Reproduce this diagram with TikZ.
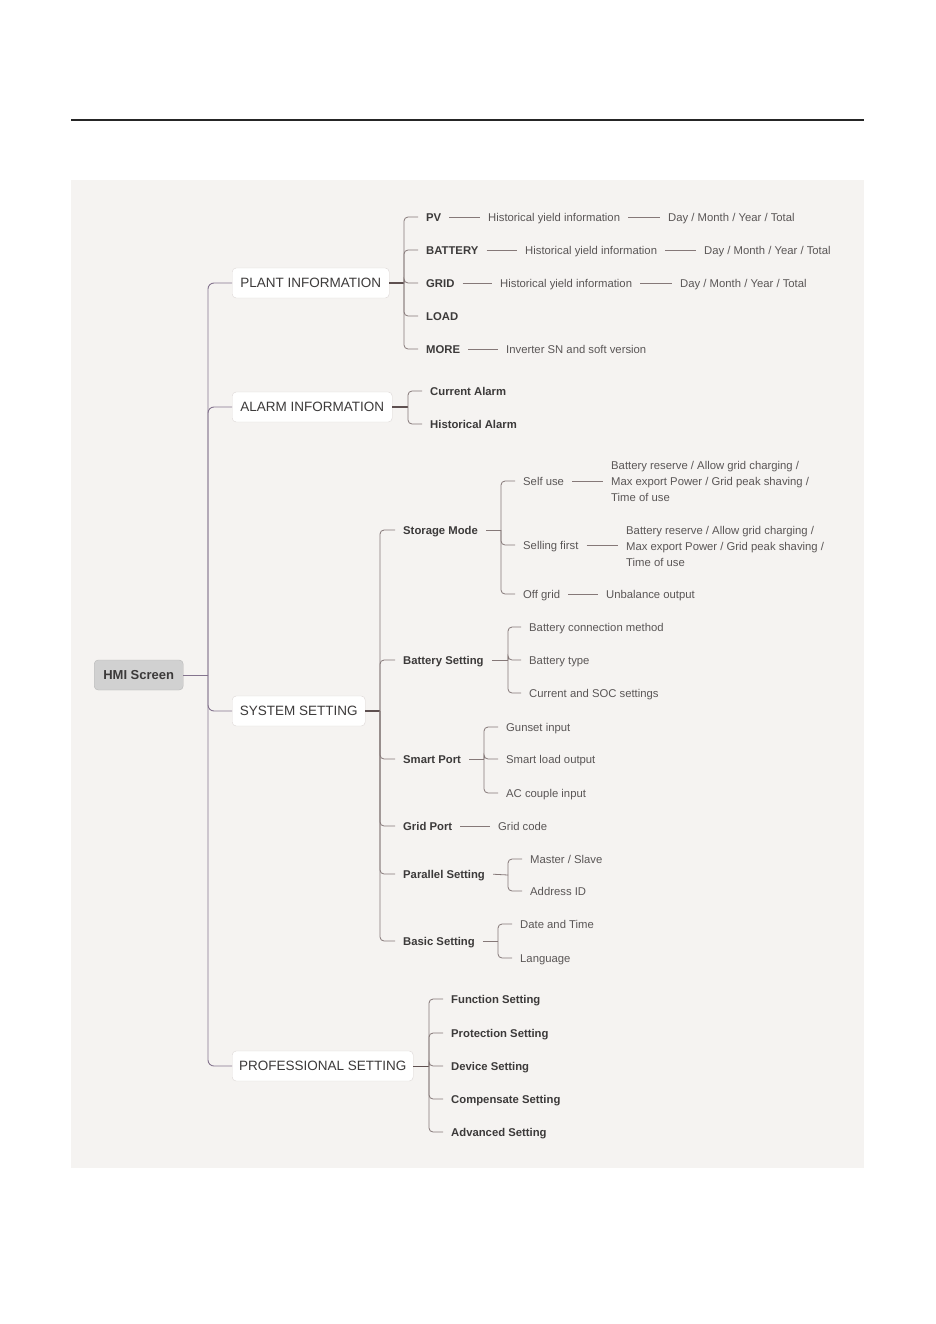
\documentclass[tikz,border=0pt]{standalone}
\usepackage{fontspec}
\setmainfont{Liberation Sans}
\definecolor{txt}{HTML}{5A5656}
\definecolor{btxt}{HTML}{3C3A3A}
\definecolor{lncol}{HTML}{857878}
\definecolor{trcol}{HTML}{84748E}
\definecolor{dkcol}{HTML}{5E5050}
\definecolor{panel}{HTML}{F5F3F1}
\definecolor{boxline}{HTML}{DDD8D6}
\begin{document}
\begin{tikzpicture}[x=1pt,y=-1pt,
 lbl/.style={anchor=west,inner xsep=4pt,inner ysep=1pt,text height=10.5pt,text depth=2pt,font=\fontsize{11.3}{13}\selectfont,text=txt},
 blbl/.style={lbl,font=\fontsize{11.3}{13}\selectfont\bfseries,text=btxt},
 mlbl/.style={anchor=west,inner xsep=4pt,inner ysep=1pt,align=left,font=\fontsize{11.3}{16}\selectfont,text=txt},
 box/.style={draw=boxline,fill=white,rounded corners=4pt,minimum height=30pt,inner xsep=0pt,text height=11pt,text depth=2.5pt,font=\fontsize{13.5}{15}\selectfont,text=btxt,anchor=west},
 con/.style={draw=lncol,line width=0.8pt,shorten <=4pt,shorten >=4pt},
 br/.style={draw=lncol,line width=0.8pt,rounded corners=4pt,shorten >=4pt},
 trunk/.style={draw=trcol,line width=0.9pt,rounded corners=6pt},
 stem/.style={draw=dkcol,line width=1.4pt}]
\useasboundingbox (0,0) rectangle (936,1324);
\fill[white] (0,0) rectangle (936,1324);
\draw[line width=1.5pt,draw=black!85] (71,120) -- (864,120);
\fill[panel] (71,180) rectangle (864,1168);

% root
\node[draw=black!28,fill=black!18,rounded corners=4pt,minimum width=89pt,minimum height=30pt,inner xsep=0pt,anchor=west,text height=11pt,text depth=2.5pt,font=\fontsize{13}{15}\selectfont\bfseries,text=btxt] (hmi) at (94,675) {HMI Screen};

% level 1 boxes
\node[box,minimum width=157pt] (plant) at (232,283) {PLANT INFORMATION};
\node[box,minimum width=160pt] (alarm) at (232,407) {ALARM INFORMATION};
\node[box,minimum width=133pt] (sys) at (232,711) {SYSTEM SETTING};
\node[box,minimum width=181pt] (prof) at (232,1066) {PROFESSIONAL SETTING};

\coordinate (T) at (208,675);
\draw[draw=trcol,line width=0.9pt] (hmi.east) -- (T);
\draw[trunk] (T) |- (plant.west);
\draw[trunk] (T) |- (alarm.west);
\draw[trunk] (T) |- (sys.west);
\draw[trunk] (T) |- (prof.west);

% PLANT INFORMATION
\coordinate (J1) at (404,283);
\draw[stem] (plant.east) -- (J1);
\node[blbl] (pv) at (422,217) {PV};
\node[blbl] (bat) at (422,250) {BATTERY};
\node[blbl] (grid) at (422,283) {GRID};
\node[blbl] (load) at (422,316) {LOAD};
\node[blbl] (more) at (422,349) {MORE};
\foreach \n in {pv,bat,grid,load,more} \draw[br] (J1) |- (\n.west);
\node[lbl] (pvh) at (484,217) {Historical yield information};
\node[lbl] (pvd) at (664,217) {Day / Month / Year / Total};
\node[lbl] (bath) at (521,250) {Historical yield information};
\node[lbl] (batd) at (700,250) {Day / Month / Year / Total};
\node[lbl] (gridh) at (496,283) {Historical yield information};
\node[lbl] (gridd) at (676,283) {Day / Month / Year / Total};
\node[lbl] (moreh) at (502,349) {Inverter SN and soft version};
\draw[con] (pv) -- (pvh); \draw[con] (pvh) -- (pvd);
\draw[con] (bat) -- (bath); \draw[con] (bath) -- (batd);
\draw[con] (grid) -- (gridh); \draw[con] (gridh) -- (gridd);
\draw[con] (more) -- (moreh);

% ALARM INFORMATION
\coordinate (J2) at (408,407);
\draw[stem] (alarm.east) -- (J2);
\node[blbl] (cur) at (426,391) {Current Alarm};
\node[blbl] (his) at (426,424) {Historical Alarm};
\draw[br] (J2) |- (cur.west);
\draw[br] (J2) |- (his.west);

% SYSTEM SETTING
\coordinate (J3) at (380,711);
\draw[stem] (sys.east) -- (J3);
\node[blbl] (sm) at (399,530) {Storage Mode};
\node[blbl] (bs) at (399,660) {Battery Setting};
\node[blbl] (sp) at (399,759) {Smart Port};
\node[blbl] (gp) at (399,826) {Grid Port};
\node[blbl] (ps) at (399,874) {Parallel Setting};
\node[blbl] (bas) at (399,941) {Basic Setting};
\foreach \n in {sm,bs,sp,gp,ps,bas} \draw[br] (J3) |- (\n.west);

% Storage Mode
\coordinate (J4) at (501,530);
\draw[con,shorten >=0pt] (sm.east) -- (J4);
\node[lbl] (self) at (519,481) {Self use};
\node[lbl] (sell) at (519,545) {Selling first};
\node[lbl] (off) at (519,594) {Off grid};
\foreach \n in {self,sell,off} \draw[br] (J4) |- (\n.west);
\node[mlbl] (selfd) at (607,481) {Battery reserve / Allow grid charging /\\Max export Power / Grid peak shaving /\\Time of use};
\node[mlbl] (selld) at (622,546) {Battery reserve / Allow grid charging /\\Max export Power / Grid peak shaving /\\Time of use};
\node[lbl] (offd) at (602,594) {Unbalance output};
\draw[con] (self.east) -- (self.east -| selfd.west);
\draw[con] (sell.east) -- (sell.east -| selld.west);
\draw[con] (off) -- (offd);

% Battery Setting
\coordinate (J5) at (508,660);
\draw[con,shorten >=0pt] (bs.east) -- (J5);
\node[lbl] (bcm) at (525,627) {Battery connection method};
\node[lbl] (bt) at (525,660) {Battery type};
\node[lbl] (soc) at (525,693) {Current and SOC settings};
\foreach \n in {bcm,bt,soc} \draw[br] (J5) |- (\n.west);

% Smart Port
\coordinate (J6) at (484,759);
\draw[con,shorten >=0pt] (sp.east) -- (J6);
\node[lbl] (gen) at (502,727) {Gunset input};
\node[lbl] (slo) at (502,759) {Smart load output};
\node[lbl] (aci) at (502,793) {AC couple input};
\foreach \n in {gen,slo,aci} \draw[br] (J6) |- (\n.west);

% Grid Port
\node[lbl] (gc) at (494,826) {Grid code};
\draw[con] (gp) -- (gc);

% Parallel Setting
\coordinate (J7) at (508,875);
\draw[con,shorten >=0pt] (ps.east) -- (J7);
\node[lbl] (ms) at (526,859) {Master / Slave};
\node[lbl] (aid) at (526,891) {Address ID};
\foreach \n in {ms,aid} \draw[br] (J7) |- (\n.west);

% Basic Setting
\coordinate (J8) at (498,941);
\draw[con,shorten >=0pt] (bas.east) -- (J8);
\node[lbl] (dt) at (516,924) {Date and Time};
\node[lbl] (lang) at (516,958) {Language};
\foreach \n in {dt,lang} \draw[br] (J8) |- (\n.west);

% PROFESSIONAL SETTING
\coordinate (J9) at (429,1066);
\draw[draw=dkcol,line width=0.9pt] (prof.east) -- (J9);
\node[blbl] (fs) at (447,999) {Function Setting};
\node[blbl] (prs) at (447,1033) {Protection Setting};
\node[blbl] (ds) at (447,1066) {Device Setting};
\node[blbl] (cs) at (447,1099) {Compensate Setting};
\node[blbl] (as) at (447,1132) {Advanced Setting};
\foreach \n in {fs,prs,ds,cs,as} \draw[br] (J9) |- (\n.west);
\end{tikzpicture}
\end{document}
